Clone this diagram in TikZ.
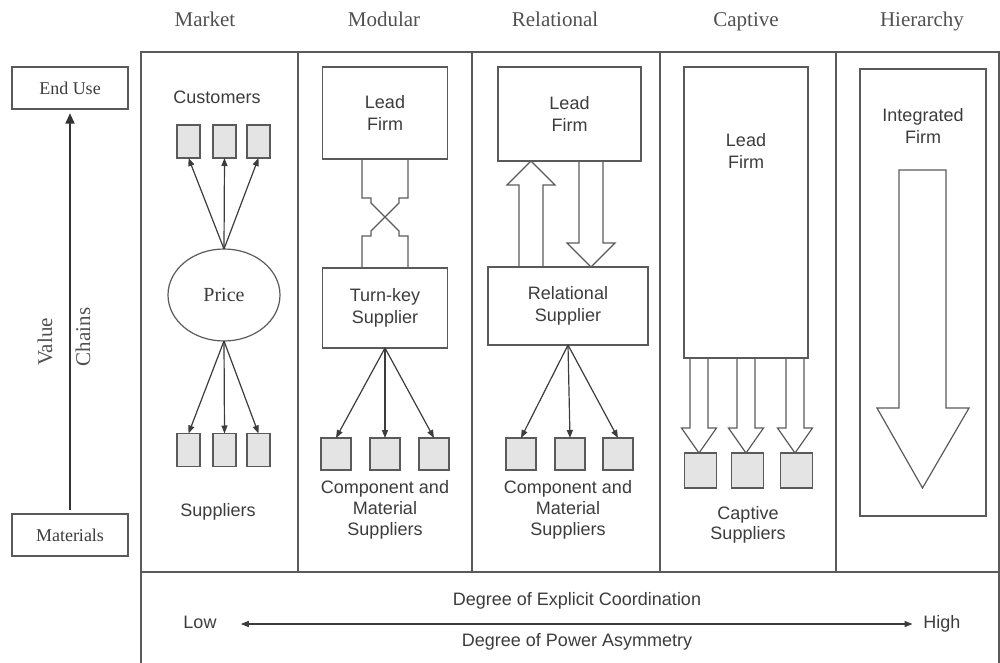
\documentclass[tikz,border=0pt]{standalone}
\usepackage{fontspec}
\setmainfont{Liberation Serif}
\setsansfont{Liberation Sans}
\usetikzlibrary{arrows.meta,shapes.geometric,calc}
\definecolor{ink}{HTML}{3C3C3C}
\definecolor{rule}{HTML}{5A5A5A}
\definecolor{cell}{HTML}{E4E4E4}

\tikzset{
  sz/.style 2 args={minimum width=#1*0.75pt, minimum height=#2*0.75pt},
  head/.style={font=\rmfamily\fontsize{15.75}{18}\selectfont, text=ink!90},
  lbl/.style={font=\sffamily\fontsize{13.5}{15.5}\selectfont, text=ink, align=center},
  firmtext/.style={font=\sffamily\fontsize{13.5}{17}\selectfont, text=ink, align=center},
  frame/.style={draw=rule, line width=1pt},
  firm/.style={draw=rule, line width=0.9pt, inner sep=0pt, outer sep=0pt, firmtext},
  cellbox/.style={draw=rule, fill=cell, line width=0.8pt, inner sep=0pt, outer sep=0pt},
  flow/.style={draw=ink, line width=0.9pt, -{Triangle[length=6pt,width=4.5pt]}},
  blk/.style={draw=rule, line width=0.9pt, line join=miter},
}

% hollow block arrow: x, tail y, head-base y, tip y, half shaft, half head
\newcommand\blockarrow[6]{%
  \draw[blk] (#1-#5,#2) -- (#1-#5,#3) -- (#1-#6,#3) -- (#1,#4) -- (#1+#6,#3) -- (#1+#5,#3) -- (#1+#5,#2);}

\begin{document}
\begin{tikzpicture}[x=0.75pt,y=-0.75pt]
\useasboundingbox (0,0) rectangle (1000,663);

% ---- column headings
\node[head, anchor=base] (hmarket) at (205,27) {Market};
\node[head, anchor=base] (hmodular) at (384,27) {Modular};
\node[head, anchor=base] (hrelational) at (555,27) {Relational};
\node[head, anchor=base] (hcaptive) at (746,27) {Captive};
\node[head, anchor=base] (hhierarchy) at (922,27) {Hierarchy};

% ---- value chain axis
\node[firm, sz={116}{42}, font=\rmfamily\fontsize{13.5}{16}\selectfont] (enduse) at (70,88) {End Use};
\node[firm, sz={116}{42}, font=\rmfamily\fontsize{13.5}{16}\selectfont] (mat) at (70,535) {Materials};
\draw[draw=black!80, line width=2.2pt, -{Triangle[length=8pt,width=6.5pt]}, shorten <=3pt, shorten >=3pt] (mat.north) -- (enduse.south);
\node[head, rotate=90] (value) at (45,342) {Value};
\node[head, rotate=90] (chains) at (83,337) {Chains};

% ---- frame and columns
\draw[frame] (141,668) -- (141,52) -- (999,52) -- (999,668);
\draw[frame] (141,572) -- (999,572);
\foreach \x in {298,472,660,836} \draw[frame] (\x,52) -- (\x,572);

% ---- market
\node[lbl] (cust) at (217,97) {Customers};
\node[draw=rule, line width=0.9pt, ellipse, sz={112}{92}, inner sep=0pt, outer sep=0pt,
      font=\rmfamily\fontsize{15}{16}\selectfont, text=ink] (price) at (224,295) {Price};
\foreach \i/\x in {1/188.5,2/224.5,3/258.5} {
  \node[cellbox, sz={23}{33}] (mc\i) at (\x,141.5) {};
  \node[cellbox, sz={23}{33}] (ms\i) at (\x,450) {};
  \draw[flow] (price.north) -- (mc\i.south);
  \draw[flow] (price.south) -- (ms\i.north);
}
\node[lbl] (msup) at (218,512) {Suppliers};

% ---- modular
\node[firm, sz={125}{92}] (mlead) at (385,113) {Lead\\Firm};
\node[firm, sz={125}{80}] (turnkey) at (385,308) {Turn-key\\Supplier};
% interlocking link between lead firm and turn-key supplier
\draw[blk] (mlead.south) ++(-23,0) -- ++(0,39) -- ++(9,0) -- ++(0,5) -- ++(5,5) -- ++(18,18)
  -- ++(5,5) -- ++(0,5) -- ++(9,0) -- ++(0,32);
\draw[blk] (mlead.south) ++(23,0) -- ++(0,39) -- ++(-9,0) -- ++(0,5) -- ++(-5,5) -- ++(-18,18)
  -- ++(-5,5) -- ++(0,5) -- ++(-9,0) -- ++(0,32);
\foreach \i/\x in {1/336,2/385,3/434} {
  \node[cellbox, sz={30}{32}] (mm\i) at (\x,454) {};
  \draw[flow] (turnkey.south) -- (mm\i.north);
}
\node[lbl] (mtxt) at (385,510) {Component and\\Material\\Suppliers};

% ---- relational
\node[firm, sz={143}{94}] (rlead) at (569.5,114) {Lead\\Firm};
\node[firm, sz={160}{78}] (rsup) at (568,306) {Relational\\Supplier};
\blockarrow{531}{267}{185}{161}{12}{24}
\blockarrow{591}{161}{243}{267}{12}{24}
\foreach \i/\x in {1/521,2/570,3/618} {
  \node[cellbox, sz={30}{32}] (rm\i) at (\x,454) {};
  \draw[flow] (rsup.south) -- (rm\i.north);
}
\node[lbl] (rtxt) at (568,510) {Component and\\Material\\Suppliers};

% ---- captive
\node[firm, sz={124}{291}] (clead) at (746,212.5) {};
\node[firmtext] (cleadtxt) at (746,151) {Lead\\Firm};
\foreach \i/\x in {1/699,2/746,3/795} {
  \blockarrow{\x}{358}{428}{453}{9}{17.5}
  \node[cellbox, sz={32}{35}] (cs\i) at (\x+1.5,470.5) {};
}
\node[lbl] (ctxt) at (748,525) {Captive\\Suppliers};

% ---- hierarchy
\node[firm, sz={126}{447}] (hfirm) at (923,292.5) {};
\node[firmtext] (htxt) at (923,126) {Integrated\\Firm};
\draw[blk] (899,170) -- (899,408) -- (877,408) -- (922.5,488) -- (969,408) -- (946,408) -- (946,170) -- cycle;

% ---- coordination scale
\node[lbl] (coord) at (577,601) {Degree of Explicit Coordination};
\node[lbl] (power) at (577,642) {Degree of Power Asymmetry};
\node[lbl, inner sep=0pt, text height=10pt, text depth=3pt] (low) at (200,624) {Low};
\node[lbl, inner sep=0pt, text height=10pt, text depth=3pt] (high) at (942,624) {High};
\draw[ink, line width=0.9pt, {Triangle[length=6pt,width=4.5pt]}-{Triangle[length=6pt,width=4.5pt]},
      shorten <=18pt, shorten >=8pt] (low.east) -- (high.west);
\end{tikzpicture}
\end{document}
